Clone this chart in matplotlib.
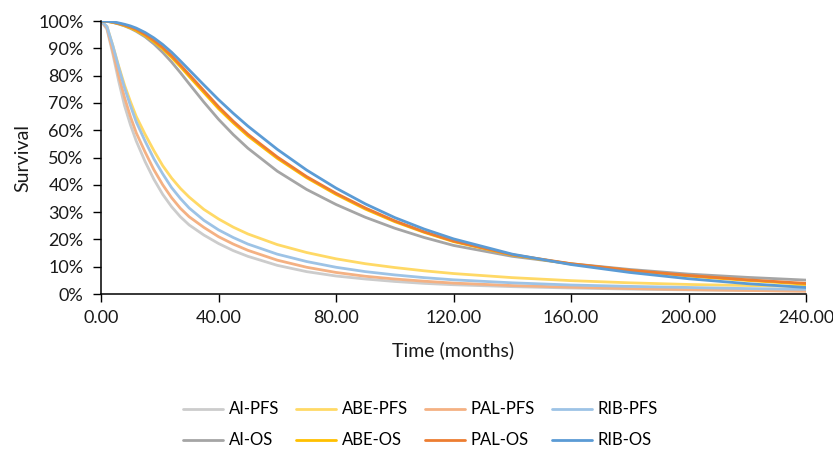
import matplotlib
matplotlib.use("Agg")
import matplotlib.pyplot as plt
from matplotlib.ticker import PercentFormatter, FormatStrFormatter

plt.rcParams["font.family"] = ["Lato", "DejaVu Sans"]

# time grid (months)
time = [0, 2, 4, 6, 8, 10, 12, 15, 18, 21, 24, 27, 30, 35, 40, 45, 50,
        60, 70, 80, 90, 100, 110, 120, 140, 160, 180, 200, 220, 240]

# survival (%)
ai_pfs = [100, 97, 88, 78, 69, 62, 56, 48.5, 42, 36.5, 32, 28.3, 25.3, 21.6, 18.5,
          15.9, 13.8, 10.5, 8.2, 6.6, 5.5, 4.6, 3.9, 3.4, 2.7, 2.2, 1.8, 1.5, 1.3, 1.1]
abe_pfs = [100, 98, 91, 83.5, 76.5, 70.5, 65, 58.5, 52.5, 47, 42.5, 38.7, 35.5, 31, 27.5,
           24.5, 22, 18.1, 15.2, 12.9, 11.1, 9.7, 8.5, 7.5, 6, 4.9, 4.1, 3.5, 3.1, 2.8]
pal_pfs = [100, 97.5, 89, 80, 72, 65, 59, 52, 45.5, 40, 35.3, 31.4, 28.3, 24.4, 21,
           18.3, 16, 12.4, 9.8, 7.9, 6.5, 5.5, 4.7, 4.0, 3.1, 2.5, 2.0, 1.6, 1.3, 1.0]
rib_pfs = [100, 98, 91, 83, 75.5, 69, 63, 56, 49.5, 44, 39, 35, 31.5, 27, 23.5,
           20.7, 18.3, 14.6, 11.9, 9.8, 8.2, 7, 6, 5.2, 4.1, 3.3, 2.8, 2.4, 2, 1.7]

ai_os = [100, 99.9, 99.5, 98.9, 98.2, 97.3, 96.2, 94.2, 91.6, 88.5, 85, 81.1, 77, 70.3, 64,
         58.4, 53.4, 45, 38.3, 32.8, 28.1, 24.1, 20.7, 17.8, 13.8, 11.1, 9.0, 7.3, 6.1, 5.1]
abe_os = [100, 99.9, 99.5, 99, 98.3, 97.5, 96.5, 94.7, 92.4, 89.8, 86.7, 83.3, 79.7, 73.8, 67.9,
          62.7, 57.9, 49.7, 42.6, 36.5, 31.1, 26.5, 22.6, 19.2, 14.3, 11.0, 8.6, 6.6, 5.0, 3.6]
pal_os = [100, 99.9, 99.6, 99.1, 98.5, 97.8, 96.9, 95.1, 92.9, 90.3, 87.3, 83.9, 80.4, 74.5, 68.6,
          63.3, 58.5, 50.2, 43, 36.9, 31.5, 26.8, 22.8, 19.4, 14.4, 11.1, 8.7, 6.8, 5.2, 3.9]
rib_os = [100, 99.9, 99.7, 99.3, 98.8, 98.2, 97.4, 95.8, 93.8, 91.4, 88.6, 85.4, 82.1, 76.6, 71.2,
          66.2, 61.5, 53, 45.4, 38.8, 33, 28, 23.8, 20.2, 14.6, 10.8, 7.9, 5.6, 3.8, 2.4]

series = [
    ("AI-PFS", ai_pfs, "#CCCCCC"),
    ("ABE-PFS", abe_pfs, "#FFD966"),
    ("PAL-PFS", pal_pfs, "#F4B183"),
    ("RIB-PFS", rib_pfs, "#9DC3E6"),
    ("AI-OS", ai_os, "#A5A5A5"),
    ("ABE-OS", abe_os, "#FFC000"),
    ("PAL-OS", pal_os, "#ED7D31"),
    ("RIB-OS", rib_os, "#5B9BD5"),
]

fig = plt.figure(figsize=(8.33, 4.55), dpi=100)
ax = fig.add_axes([0.1213, 0.3538, 0.8463, 0.6000])

lines = {}
for name, vals, col in series:
    ln, = ax.plot(time, vals, color=col, lw=2.0, label=name, solid_capstyle="round")
    lines[name] = ln

ax.set_xlim(0, 240)
ax.set_ylim(0, 100)
ax.set_xticks(range(0, 241, 40))
ax.set_yticks(range(0, 101, 10))
ax.xaxis.set_major_formatter(FormatStrFormatter("%.2f"))
ax.yaxis.set_major_formatter(PercentFormatter(decimals=0))
ax.tick_params(direction="out", length=5.5, width=1.0, labelsize=13, colors="#000000",
               labelcolor="#1a1a1a")
ax.tick_params(axis="y", pad=7)
ax.tick_params(axis="x", pad=6)
for s in ("top", "right"):
    ax.spines[s].set_visible(False)
for s in ("left", "bottom"):
    ax.spines[s].set_linewidth(1.1)
    ax.spines[s].set_color("#000000")

ax.set_xlabel("Time (months)", fontsize=14, color="#1a1a1a", labelpad=11)
ax.set_ylabel("Survival", fontsize=14, color="#1a1a1a", labelpad=5)

order = ["AI-PFS", "AI-OS", "ABE-PFS", "ABE-OS", "PAL-PFS", "PAL-OS", "RIB-PFS", "RIB-OS"]
fig.legend([lines[n] for n in order], order, loc="center",
           bbox_to_anchor=(0.505, 0.066), ncol=4, frameon=False, fontsize=12,
           handlelength=2.4, columnspacing=1.0, labelspacing=0.9, handletextpad=0.35)

fig.savefig("out.png", dpi=100, facecolor="white")
